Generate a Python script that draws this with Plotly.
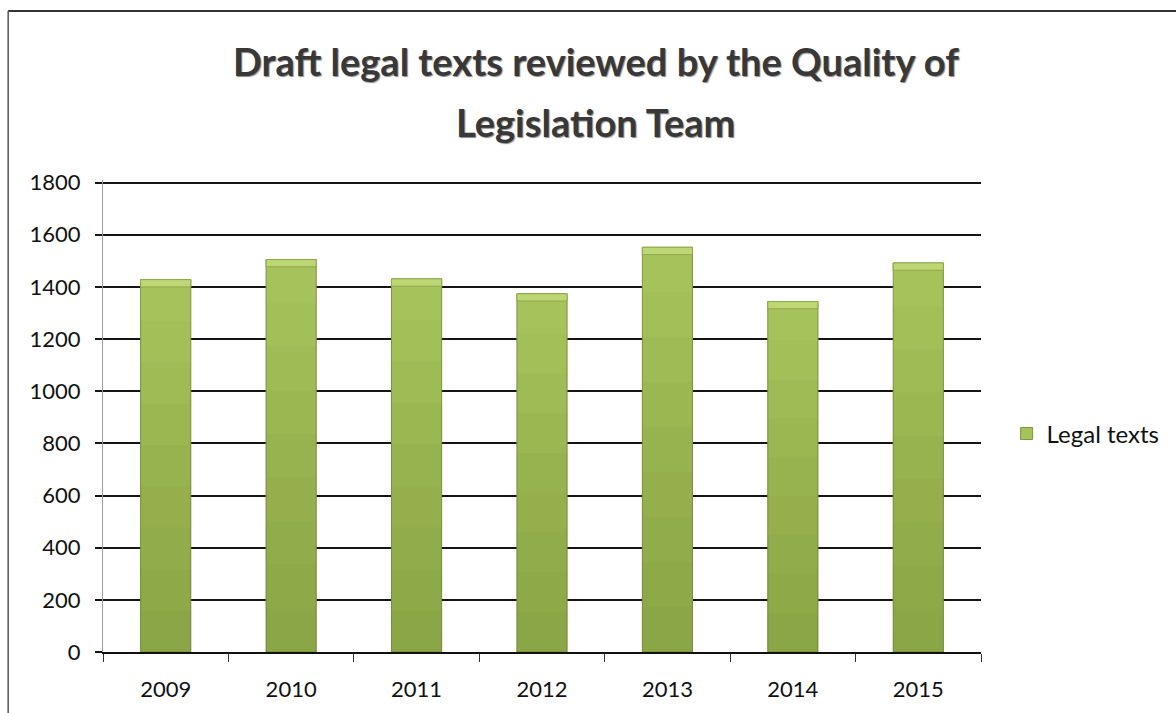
import plotly.graph_objects as go

# Chart data
years = ["2009", "2010", "2011", "2012", "2013", "2014", "2015"]
legal_texts = [1428, 1505, 1431, 1374, 1552, 1344, 1492]
y_ticks = [0, 200, 400, 600, 800, 1000, 1200, 1400, 1600, 1800]
title_lines = ["Draft legal texts reviewed by the Quality of", "Legislation Team"]

FONT = "Lato"
BAR_W = 0.4

fig = go.Figure()

# Main bars (legend entry)
fig.add_trace(go.Bar(
    x=years, y=legal_texts, name="Legal texts", width=BAR_W,
    marker=dict(color="#a6c35b", line=dict(color="#7d9440", width=1)),
    hoverinfo="x+y",
))

# Shading layers darkening toward the base of each bar
n_layers = 8
for i in range(1, n_layers + 1):
    frac = 1 - i / (n_layers + 1)
    fig.add_trace(go.Bar(
        x=years, y=[v * frac for v in legal_texts], width=BAR_W,
        marker=dict(color="rgba(90,110,30,0.05)", line=dict(width=0)),
        showlegend=False, hoverinfo="skip",
    ))

# Bevelled highlight on top of each bar
cap = 28
fig.add_trace(go.Bar(
    x=years, y=[cap] * len(years), base=[v - cap for v in legal_texts], width=BAR_W,
    marker=dict(color="#bcd774", line=dict(color="#8fa94c", width=1)),
    showlegend=False, hoverinfo="skip",
))

title_font = dict(family=FONT, size=38, weight="bold", color="#383838",
                  shadow="1px 1px 1px #8a8a8a")

fig.update_layout(
    barmode="overlay",
    width=1176, height=713,
    paper_bgcolor="white", plot_bgcolor="white",
    margin=dict(l=103, r=194, t=180, b=61),
    font=dict(family=FONT, color="#111111"),
    annotations=[
        dict(text=title_lines[0], xref="paper", yref="paper",
             x=0.561, y=1.2525, xanchor="center", yanchor="middle",
             showarrow=False, font=title_font),
        dict(text=title_lines[1], xref="paper", yref="paper",
             x=0.561, y=1.1235, xanchor="center", yanchor="middle",
             showarrow=False, font=title_font),
    ],
    legend=dict(
        x=1.028, xanchor="left", y=0.462, yanchor="middle",
        font=dict(family=FONT, size=24, color="#111111"),
        itemwidth=30, traceorder="normal",
    ),
    xaxis=dict(
        showgrid=False, showline=True, linecolor="#111111", linewidth=2,
        ticks="outside", ticklen=8, tickcolor="#333333",
        tickson="boundaries",
        tickfont=dict(family=FONT, size=22, color="#111111"),
        ticklabelstandoff=17,
    ),
    yaxis=dict(
        range=[0, 1810], tickvals=y_ticks,
        showgrid=True, gridcolor="#151515", gridwidth=2,
        showline=True, linecolor="#9a9a9a", linewidth=1,
        ticks="outside", ticklen=7, tickcolor="#151515", tickwidth=2,
        tickfont=dict(family=FONT, size=22, color="#111111"),
        ticklabelstandoff=10, zeroline=False,
    ),
    shapes=[
        # outer chart frame (top and left edges)
        dict(type="line", xref="paper", yref="paper",
             x0=-0.108, x1=1.25, y0=1.358, y1=1.358,
             line=dict(color="#333333", width=2)),
        dict(type="line", xref="paper", yref="paper",
             x0=-0.108, x1=-0.108, y0=1.358, y1=-0.2,
             line=dict(color="#555555", width=1.5)),
    ],
)

fig.write_html("out.html")
